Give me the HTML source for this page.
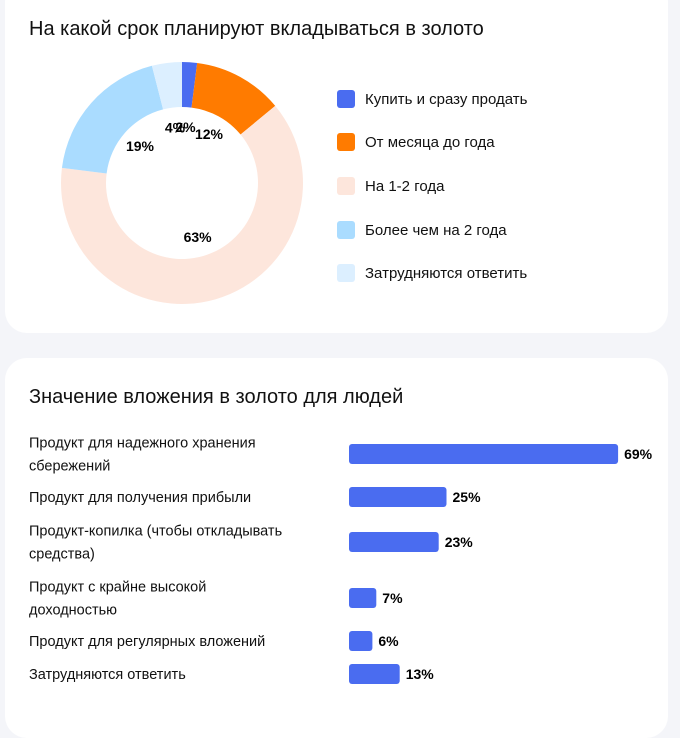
<!DOCTYPE html>
<html><head><meta charset="utf-8"><style>
body{margin:0;width:680px;height:712px;background:#f4f5f9;font-family:"Liberation Sans",sans-serif;color:#111;position:relative;overflow:hidden}
.card{position:absolute;left:5px;width:663px;background:#fff;border-radius:22px}
.title{position:absolute;left:24px;font-size:20px;color:#111}
.leg{position:absolute;left:332px;font-size:15px;display:flex;align-items:center}
.leg i{display:inline-block;width:18px;height:18px;border-radius:3px;margin-right:10px}
.lbl{position:absolute;left:24px;font-size:14.5px;line-height:23px;width:300px}
</style></head><body>
<div class="card" style="top:-20px;height:353px">
<div class="title" style="top:38px">На какой срок планируют вкладываться в золото</div>
<svg id="donut" width="340" height="353" style="position:absolute;left:0;top:0"></svg>
<div class="leg" style="top:110px"><i style="background:#4a6cf0"></i>Купить и сразу продать</div>
<div class="leg" style="top:153px"><i style="background:#ff7b00"></i>От месяца до года</div>
<div class="leg" style="top:197px"><i style="background:#fde6dc"></i>На 1-2 года</div>
<div class="leg" style="top:241px"><i style="background:#aadcff"></i>Более чем на 2 года</div>
<div class="leg" style="top:284px"><i style="background:#dcefff"></i>Затрудняются ответить</div>
</div>
<div class="card" style="top:358px;height:380px">
<div class="title" style="top:28px">Значение вложения в золото для людей</div>
<svg id="bars" width="663" height="354" style="position:absolute;left:0;top:0"></svg>
</div>
<script>
const donutLabels=["Купить и сразу продать","От месяца до года","На 1-2 года","Более чем на 2 года","Затрудняются ответить"];
const donutValues=[2,12,63,19,4];
const donutColors=["#4a6cf0","#ff7b00","#fde6dc","#aadcff","#dcefff"];
const barCategories=[["Продукт для надежного хранения","сбережений"],["Продукт для получения прибыли"],["Продукт-копилка (чтобы откладывать","средства)"],["Продукт с крайне высокой","доходностью"],["Продукт для регулярных вложений"],["Затрудняются ответить"]];
const barValues=[69,25,23,7,6,13];
const NS="http://www.w3.org/2000/svg";
(function(){
 const svg=document.getElementById('donut');
 const cx=177,cy=203,R=121,r=76,total=donutValues.reduce((a,b)=>a+b,0);
 let acc=0;
 const pt=(a,rad)=>[cx+rad*Math.sin(a),cy-rad*Math.cos(a)];
 donutValues.forEach((v,i)=>{
  const a0=acc/total*2*Math.PI;acc+=v;const a1=acc/total*2*Math.PI;
  const lg=(a1-a0)>Math.PI?1:0;
  const p0=pt(a0,R),p1=pt(a1,R),q1=pt(a1,r),q0=pt(a0,r);
  const p=document.createElementNS(NS,'path');
  p.setAttribute('d',`M${p0}L${p0}A${R},${R} 0 ${lg} 1 ${p1}L${q1}A${r},${r} 0 ${lg} 0 ${q0}Z`);
  p.setAttribute('fill',donutColors[i]);
  
  
  svg.appendChild(p);
  const m=pt((a0+a1)/2,56);
  const t=document.createElementNS(NS,'text');
  t.setAttribute('x',m[0]);t.setAttribute('y',m[1]+5);
  t.setAttribute('text-anchor','middle');t.setAttribute('font-size','14');t.setAttribute('font-weight','bold');
  t.textContent=v+'%';
  
  
  svg.appendChild(t);
 });
})();
(function(){
 const svg=document.getElementById('bars');
 const x0=344,scale=3.9;
 const rowY=[96,139,184,240,283,316];
 barCategories.forEach((c,i)=>{
  const y=rowY[i];
  const t=document.createElementNS(NS,'text');
  t.setAttribute('font-size','14.5');t.setAttribute('fill','#111');
  
  
  const y0=y-(c.length-1)*11.5+5;
  c.forEach((line,j)=>{const ts=document.createElementNS(NS,'tspan');ts.setAttribute('x',24);ts.setAttribute('y',y0+j*23);ts.textContent=line;t.appendChild(ts);});
  svg.appendChild(t);
  const w=barValues[i]*scale;
  const b=document.createElementNS(NS,'rect');
  b.setAttribute('x',x0);b.setAttribute('y',y-10);b.setAttribute('width',w);b.setAttribute('height',20);b.setAttribute('rx',3);b.setAttribute('fill','#4a6cf0');
  
  
  svg.appendChild(b);
  const v=document.createElementNS(NS,'text');
  v.setAttribute('x',x0+w+6);v.setAttribute('y',y+5);v.setAttribute('font-size','14');v.setAttribute('font-weight','bold');
  v.textContent=barValues[i]+'%';
  
  
  svg.appendChild(v);
 });
})();
</script>
</body></html>
